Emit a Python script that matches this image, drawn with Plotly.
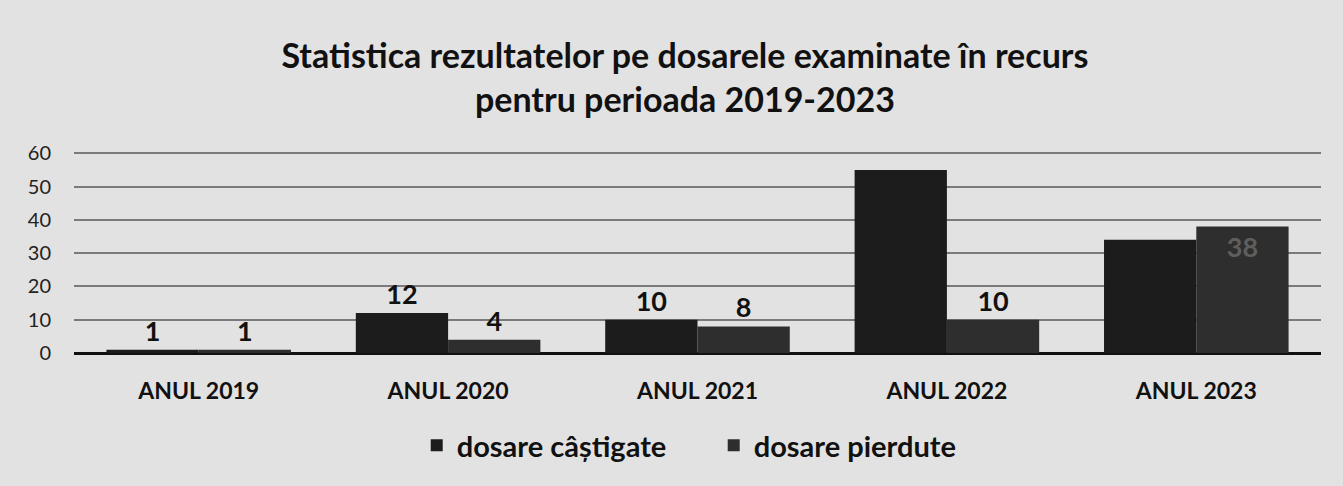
import plotly.graph_objects as go

categories = ["ANUL 2019", "ANUL 2020", "ANUL 2021", "ANUL 2022", "ANUL 2023"]
castigate = [1, 12, 10, 55, 34]
pierdute = [1, 4, 8, 10, 38]
y_ticks = [0, 10, 20, 30, 40, 50, 60]

title = "Statistica rezultatelor pe dosarele examinate în recurs<br>pentru perioada 2019-2023"

font_fam = "Lato, 'Open Sans', sans-serif"
c1 = "#1c1c1c"
c2 = "#2e2e2e"

fig = go.Figure()
fig.add_trace(go.Bar(
    x=categories, y=castigate, name="<b>dosare câștigate</b>",
    marker=dict(color=c1, line=dict(width=0)),
    text=castigate, texttemplate="<b>%{text}</b>",
    textposition=["outside", "outside", "outside", "inside", "inside"],
    insidetextanchor="end",
    textfont=dict(family=font_fam, size=27, color=["#111", "#111", "#111", c1, c1]),
    cliponaxis=False,
))
fig.add_trace(go.Bar(
    x=categories, y=pierdute, name="<b>dosare pierdute</b>",
    marker=dict(color=c2, line=dict(width=0)),
    text=pierdute, texttemplate="<b>%{text}</b>",
    textposition=["outside", "outside", "outside", "outside", "inside"],
    insidetextanchor="end",
    textfont=dict(family=font_fam, size=27, color=["#111", "#111", "#111", "#111", "#5e5e5e"]),
    cliponaxis=False,
))

fig.update_layout(
    width=1343, height=486,
    paper_bgcolor="#e2e2e2", plot_bgcolor="#e2e2e2",
    margin=dict(l=74, r=22, t=150, b=133),
    barmode="group", bargap=0.26, bargroupgap=0.0,
    uniformtext=dict(minsize=10, mode="show"),
    title=dict(text="<b>" + title + "</b>", x=0.51, xanchor="center", y=0.86, yanchor="top",
               font=dict(family=font_fam, size=34, color="#111")),
    font=dict(family=font_fam, color="#111"),
    showlegend=True,
    legend=dict(orientation="h", x=0.513, xanchor="center", y=-0.33, yanchor="top",
                font=dict(family=font_fam, size=29, color="#111"),
                itemwidth=30, entrywidth=252, traceorder="normal"),
)
fig.update_xaxes(
    tickfont=dict(family=font_fam, size=23, color="#111"),
    tickprefix="<b>", ticksuffix="</b>",
    showline=False, ticks="", showgrid=False,
    ticklabelstandoff=22,
)
fig.update_yaxes(
    range=[0, 61], tickvals=y_ticks,
    tickfont=dict(family=font_fam, size=20, color="#222"),
    showgrid=True, gridcolor="#7a7a7a", gridwidth=1.5,
    zeroline=True, zerolinecolor="#111", zerolinewidth=3,
    showline=False, ticks="",
    ticklabelstandoff=22,
)

fig.write_html("out.html", config={"displayModeBar": False},
               post_script="document.body.style.margin='0';document.body.style.overflow='hidden';")
